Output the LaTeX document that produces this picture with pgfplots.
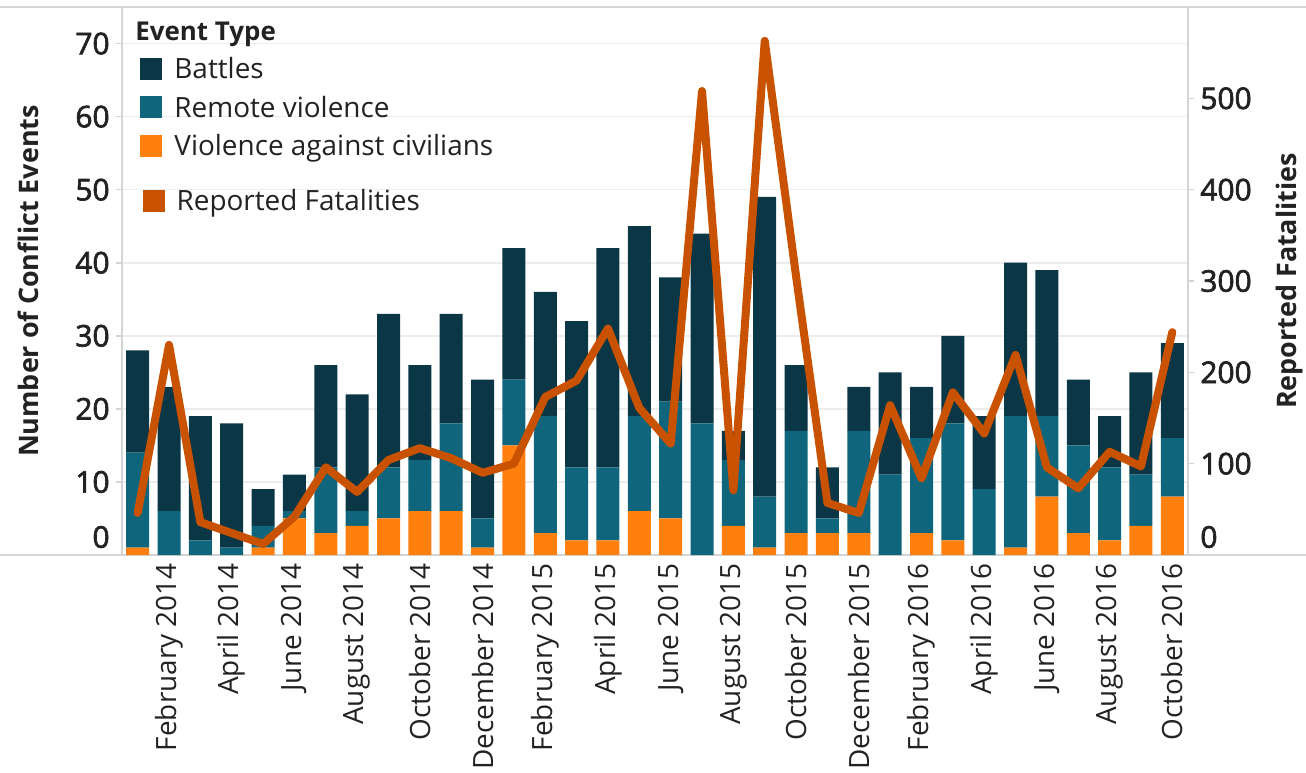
\documentclass[border=0pt]{standalone}
\usepackage{pgfplots}
\pgfplotsset{compat=1.18}
\usepackage{pgfplotstable}
\usepackage{fontspec}
\setmainfont{Open Sans}
\newfontfamily\tickfont{Open Sans}[FakeBold=2.2]
\definecolor{cBattles}{HTML}{0B3646}
\definecolor{cRemote}{HTML}{0F657B}
\definecolor{cCiv}{HTML}{FF800E}
\definecolor{cFatal}{HTML}{C85200}
\definecolor{cLine}{HTML}{D4D4D4}
\definecolor{cGrid}{HTML}{EDEDED}
\definecolor{cText}{HTML}{222222}

\pgfplotstableread{
idx civ remote battles fatal
0 1 13 14 46
1 0 6 17 230
2 0 2 17 36
3 0 1 17 24
4 1 3 5 12
5 5 1 5 42
6 3 9 14 96
7 4 2 16 69
8 5 7 21 104
9 6 7 13 117
10 6 12 15 106
11 1 4 19 90
12 15 9 18 100
13 3 16 17 173
14 2 10 20 191
15 2 10 30 248
16 6 13 26 161
17 5 16 17 122
18 0 18 26 508
19 4 9 4 71
20 1 7 41 563
21 3 14 9 305
22 3 2 7 57
23 3 14 6 46
24 0 11 14 164
25 3 13 7 84
26 2 16 12 178
27 0 9 10 133
28 1 18 21 219
29 8 11 20 96
30 3 12 9 73
31 2 10 7 113
32 4 7 14 97
33 8 8 13 244
}\data

\pgfplotsset{
  sqleg/.style={legend image code/.code={\fill[##1, draw=none] (0bp,-5.5bp) rectangle (11bp,5.5bp);}},
  base/.style={
    at={(0,0)}, anchor=south west,
    scale only axis, width=533bp, height=274bp,
    xmin=-0.5, xmax=33.5,
    axis line style={draw=cLine, line width=1bp},
    tick align=outside, major tick length=3bp,
    tick style={draw=cLine, line width=0.8bp},
    /pgf/number format/assume math mode=true,
    y tick label style={font=\tickfont\fontsize{15}{15}\selectfont, text=cText, inner xsep=3bp, inner ysep=0pt},
    legend style={draw=none, fill=none, inner sep=0pt, font=\fontsize{14}{14}\selectfont, text=cText,
      nodes={inner sep=0pt, text height=10bp, text depth=0bp}, row sep=8.25bp, column sep=6bp},
    legend cell align=left,
  },
}

\begin{document}
\begin{tikzpicture}
\useasboundingbox (-61bp,-109bp) rectangle (592bp,277.5bp);
\draw[cLine, line width=1bp] (-61bp,0) -- (592bp,0);
\draw[cLine, line width=1bp] (-61bp,274bp) -- (592bp,274bp);

\begin{axis}[base,
  ymin=0, ymax=75,
  ytick={10,20,...,70}, extra y ticks={0},
  extra y tick style={grid=none, yticklabel style={yshift=9bp}},
  ymajorgrids, grid style={draw=cGrid, line width=0.8bp},
  ybar stacked, bar width=11.5bp,
  xtick={1,3,...,33},
  xticklabels={February 2014, April 2014, June 2014, August 2014, October 2014, December 2014,
    February 2015, April 2015, June 2015, August 2015, October 2015, December 2015,
    February 2016, April 2016, June 2016, August 2016, October 2016},
  x tick style={draw=none},
  x tick label style={rotate=90, anchor=east, font=\fontsize{14}{14}\selectfont, text=cText, inner xsep=1bp, inner ysep=0pt},
  ytick pos=left,
  ylabel={Number of Conflict Events},
  every axis y label/.style={at={(axis description cs:0,0.5)}, xshift=-47bp, rotate=90, anchor=center,
    font=\bfseries\fontsize{13.5}{13.5}\selectfont, text=cText},
  legend style={at={(0.0169,0.8175)}, anchor=west},
  reverse legend,
]
\addplot[fill=cCiv, draw=none, sqleg] table[x=idx, y=civ]{\data};
\addlegendentry{Violence against civilians}
\addplot[fill=cRemote, draw=none, sqleg] table[x=idx, y=remote]{\data};
\addlegendentry{Remote violence}
\addplot[fill=cBattles, draw=none, sqleg] table[x=idx, y=battles]{\data};
\addlegendentry{Battles}
\node[anchor=base west, font=\bfseries\fontsize{13}{13}\selectfont, text=cText, inner sep=0pt]
  at (rel axis cs:0.0122,0.939) {Event Type};
\end{axis}

\begin{axis}[base,
  ymin=0, ymax=600,
  axis x line=none, axis y line*=right,
  ytick={100,200,...,500}, extra y ticks={0},
  extra y tick style={yticklabel style={yshift=9bp}},
  ylabel={Reported Fatalities},
  every axis y label/.style={at={(axis description cs:1,0.5)}, xshift=51bp, rotate=90, anchor=center,
    font=\bfseries\fontsize{13.5}{13.5}\selectfont, text=cText},
  legend style={at={(0.019,0.646)}, anchor=west},
]
\addplot[color=cFatal, line width=4bp, line join=round, line cap=round, sqleg] table[x=idx, y=fatal]{\data};
\addlegendentry{Reported Fatalities}
\end{axis}
\end{tikzpicture}
\end{document}
